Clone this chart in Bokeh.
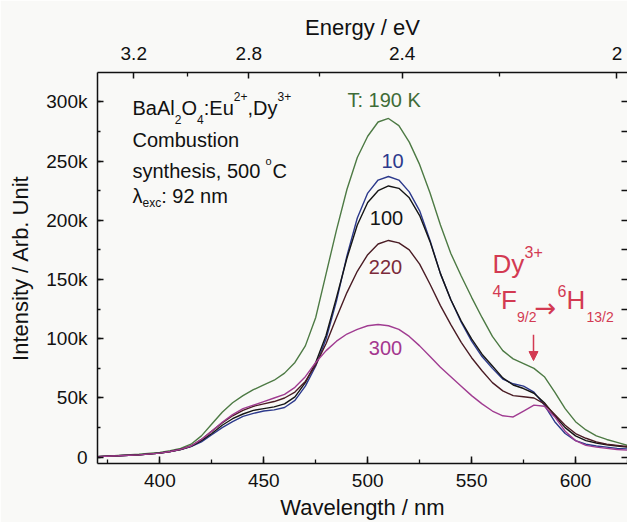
from bokeh.plotting import figure
from bokeh.models import (Range1d, LinearAxis, FixedTicker, SingleIntervalTicker,
                          CustomJSTickFormatter, Arrow, NormalHead)
from bokeh.core.properties import value
from bokeh.embed import file_html
from bokeh.resources import INLINE

# ---------------- data (intensity in thousands of counts) ----------------
wavelength = [370, 380, 390, 400, 405, 410, 415, 420, 425, 430, 435, 440, 445, 450, 455,
              460, 465, 470, 475, 480, 485, 490, 495, 500, 505, 510, 515, 520, 525,
              530, 535, 540, 545, 550, 555, 560, 565, 570, 575, 580, 585, 590, 595,
              600, 605, 610, 615, 620, 625]

t190 = [0.5, 1.5, 2.5, 4, 5.5, 7.5, 11, 18, 28, 38, 46, 52, 57, 61, 65,
        71, 80, 94, 118, 155, 192, 226, 253, 271, 283, 286, 280, 266, 247,
        223, 196, 172, 153, 135, 118, 102, 90, 83, 79, 75, 68, 55, 41,
        30, 23, 18, 15, 12.5, 10]

t10 = [0.5, 1.2, 2, 3.5, 4.8, 6.5, 9, 13, 19, 25, 30, 34.5, 37, 39, 40,
       42, 48, 60, 77, 100, 132, 170, 202, 223, 234, 237, 234, 224, 208,
       183, 155, 133, 114, 98, 85, 75, 66, 62, 60, 55, 44, 30, 20,
       14, 11, 9.5, 8.5, 7.5, 7]

t100 = [0.5, 1.2, 2, 3.5, 4.8, 6.5, 9.2, 14, 20, 27, 32.5, 36.5, 39.5, 41, 42.5,
        45, 51, 63, 80, 103, 135, 168, 196, 215, 225, 229, 227, 219, 204,
        182, 155, 133, 115, 100, 87, 77, 67, 61, 58, 54, 46, 35, 25,
        18, 14, 12, 10.5, 9.5, 8.5]

t220 = [0.5, 1.2, 2, 3.5, 4.8, 6.6, 9.5, 15, 22, 29, 35, 39.5, 43, 45, 47,
        50, 55, 64, 78, 96, 118, 139, 157, 171, 180, 183, 181, 175, 163,
        146, 128, 112, 97, 84, 73, 63, 56, 52, 51, 50, 45, 36, 27,
        20, 16, 13, 11, 10, 9]

t300 = [0.5, 1.2, 2, 3.5, 4.8, 6.6, 9.5, 15, 22, 29.5, 36, 41, 44, 47, 50,
        53, 59, 68, 80, 90, 98, 104, 108, 111, 112, 111, 108, 102, 94,
        85, 76, 68, 60, 52, 45, 39, 35, 34, 39, 44, 43, 34, 22,
        14, 10, 8.5, 7.5, 6.5, 6]

energy_major = [3.2, 2.8, 2.4, 2.0]
energy_minor = [3.0, 2.6, 2.2]
HC = 1239.84  # eV*nm

# ---------------- style ----------------
BG = "#f9f9f7"
FONT = "Liberation Sans"
C190, C10, C100, C220, C300 = "#4d7a44", "#2d3a8c", "#151515", "#4a1c24", "#a03c91"
L220, L300, L190 = "#7b2a3a", "#a4378f", "#3f6c37"
RED = "#d33a52"

X0, X1 = 370, 625
Y0, Y1 = -5.3, 324.8
FL, FT, FW, FH = 97, 72, 530, 395   # frame in page pixels


def dx(px):
    return X0 + (px - FL) * (X1 - X0) / FW


def dy(py):
    return Y1 - (py - FT) * (Y1 - Y0) / FH


p = figure(width=627, height=522, x_range=Range1d(X0, X1), y_range=Range1d(Y0, Y1),
           output_backend="svg", toolbar_location=None,
           min_border_left=FL, min_border_right=0, min_border_top=FT,
           min_border_bottom=522 - FT - FH,
           background_fill_color=BG, border_fill_color=BG, outline_line_color=None)
p.grid.visible = False


def style_axis(ax, tick_in=7, minor_in=4):
    ax.axis_line_width = 1.5
    ax.axis_line_color = "#111111"
    ax.major_tick_in = tick_in
    ax.major_tick_out = 0
    ax.minor_tick_in = minor_in
    ax.minor_tick_out = 0
    ax.major_tick_line_width = 1.5
    ax.minor_tick_line_width = 1.3
    ax.major_tick_line_color = "#111111"
    ax.minor_tick_line_color = "#111111"
    ax.major_label_text_font = FONT
    ax.major_label_text_font_size = "19px"
    ax.major_label_text_color = "#111111"
    ax.axis_label_text_font = FONT
    ax.axis_label_text_font_size = "22px"
    ax.axis_label_text_font_style = "normal"
    ax.axis_label_text_color = "#111111"


xa = p.xaxis[0]
xa.ticker = SingleIntervalTicker(interval=50, num_minor_ticks=2)
xa.axis_label = "Wavelength / nm"
style_axis(xa)
xa.major_label_standoff = 10
xa.axis_label_standoff = 5

ya = p.yaxis[0]
ya.ticker = SingleIntervalTicker(interval=50, num_minor_ticks=2)
ya.formatter = CustomJSTickFormatter(code="return tick == 0 ? '0' : tick.toFixed(0) + 'k';")
ya.axis_label = "Intensity / Arb. Unit"
style_axis(ya, 6, 3)
ya.major_label_standoff = 10
ya.axis_label_standoff = 10

top = LinearAxis(
    ticker=FixedTicker(ticks=[HC / e for e in energy_major],
                       minor_ticks=[HC / e for e in energy_minor]),
    formatter=CustomJSTickFormatter(
        code="const e = 1239.84/tick; return Math.abs(e-2) < 1e-6 ? '2' : e.toFixed(1);"),
    axis_label="Energy / eV")
style_axis(top, 6, 4)
top.major_label_standoff = 13
top.axis_label_standoff = 4
p.add_layout(top, "above")

right = LinearAxis(ticker=SingleIntervalTicker(interval=25, num_minor_ticks=0),
                   formatter=CustomJSTickFormatter(code="return '';"))
style_axis(right, 6, 0)
right.axis_line_color = None
right.major_label_text_font_size = "0px"
right.major_label_standoff = 0
right.axis_label_standoff = 0
p.add_layout(right, "right")

# ---------------- curves ----------------
for ys, c in [(t190, C190), (t10, C10), (t100, C100), (t220, C220), (t300, C300)]:
    p.line(wavelength, ys, line_color=c, line_width=1.4)


def txt(px, py, s, size, color="#111111", align="left", font=FONT):
    # (px, py): left/centre x and vertical centre of the glyphs, in page pixels
    p.text(x=[dx(px)], y=[dy(py)], text=[s], text_font=value(font),
           text_font_size=f"{size}px", text_color=color, text_align=align,
           text_baseline="middle")


# sample description
txt(132, 108, "BaAl", 20)
txt(174.2, 119.5, "2", 12)
txt(181, 108, "O", 20)
txt(196.6, 119.5, "4", 12)
txt(203.3, 108, ":Eu", 20)
txt(233.3, 96, "2+", 12)
txt(247, 108, ",Dy", 20)
txt(277, 96, "3+", 12)
txt(132, 140.5, "Combustion", 20)
txt(132, 171.5, "synthesis, 500", 20)
txt(265, 161, "o", 11)
txt(272, 171.5, "C", 20)
txt(132, 196.5, "\u03bb", 20)
txt(142, 204, "exc", 12)
txt(160.7, 196.5, ": 92 nm", 20)

# temperature labels
txt(347, 99.5, "T: 190 K", 20, L190)
txt(392, 161.5, "10", 20, C10, "center")
txt(386, 219, "100", 20, C100, "center")
txt(385, 268, "220", 20, L220, "center")
txt(385, 350, "300", 20, L300, "center")

# Dy3+ transition annotation
txt(492, 265.5, "Dy", 26, RED)
txt(524, 253, "3+", 16, RED)
txt(492, 292.5, "4", 16, RED)
txt(500.5, 302, "F", 26, RED)
txt(516.5, 319, "9/2", 14, RED)
txt(534, 310, "\u2192", 26, RED, font="DejaVu Sans")
txt(557, 292.5, "6", 16, RED)
txt(566, 302, "H", 26, RED)
txt(586, 319, "13/2", 14, RED)

p.add_layout(Arrow(end=NormalHead(size=9, fill_color=RED, line_color=RED, line_width=1),
                   x_start=dx(533), y_start=dy(337), x_end=dx(533), y_end=dy(363),
                   line_color=RED, line_width=1.5))

open("out.html", "w").write(file_html(p, INLINE))
